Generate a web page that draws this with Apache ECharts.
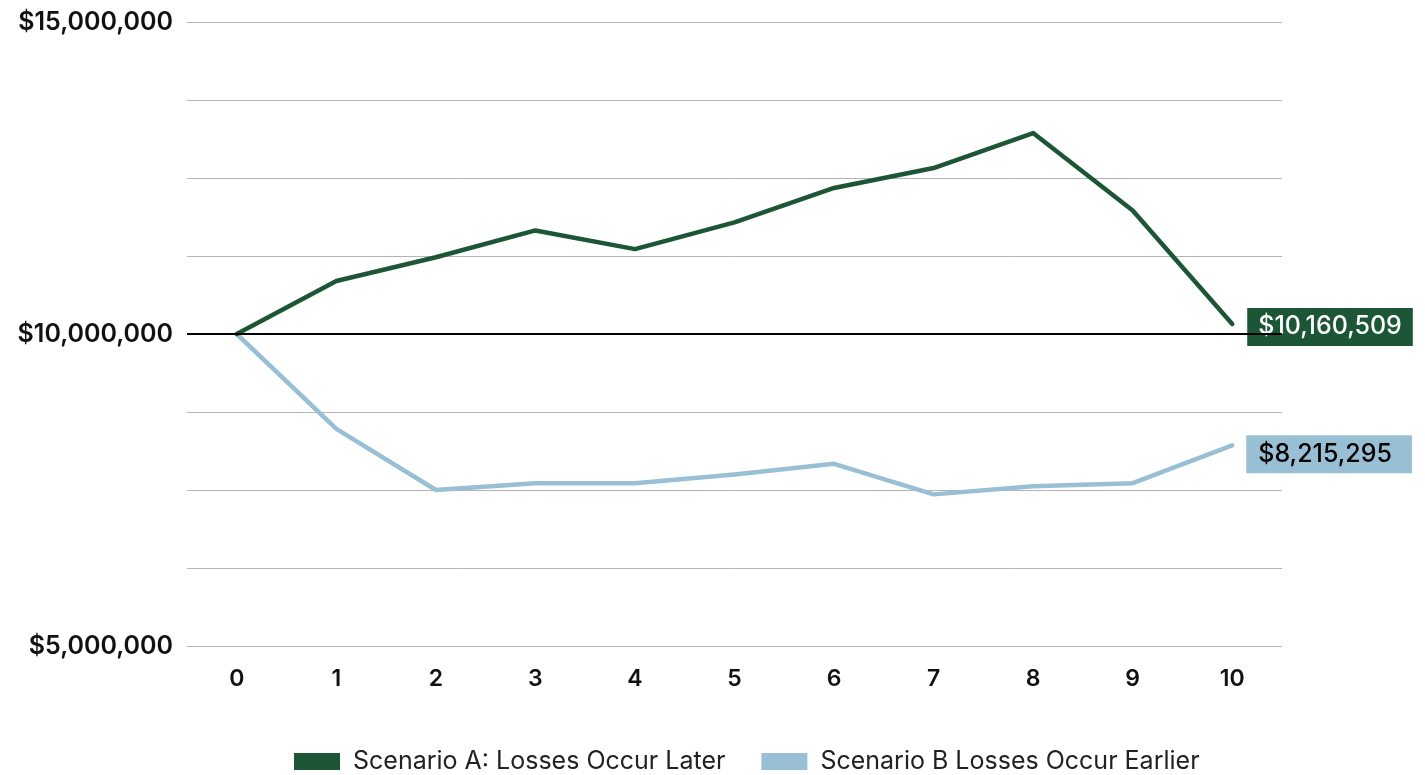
<!DOCTYPE html>
<html>
<head>
<meta charset="utf-8">
<script src="https://cdn.jsdelivr.net/npm/echarts@6/dist/echarts.min.js"></script>
<style>
  html, body { margin: 0; padding: 0; background: #ffffff; }
  #chart { width: 1425px; height: 775px; }
</style>
</head>
<body>
<div id="chart"></div>
<script>
// Years since retirement
const years = ['0', '1', '2', '3', '4', '5', '6', '7', '8', '9', '10'];

// Portfolio value, losses late in the sequence
const scenarioA = [10000000, 10850000, 11230000, 11660000, 11360000, 11790000, 12340000, 12660000, 13220000, 11980000, 10160509];

// Portfolio value, losses early in the sequence
const scenarioB = [10000000, 8480000, 7500000, 7610000, 7610000, 7750000, 7920000, 7430000, 7560000, 7610000, 8215295];

const seriesNames = ['Scenario A: Losses Occur Later', 'Scenario B Losses Occur Earlier'];
const startingValue = 10000000;
const labelledTicks = [5000000, 10000000, 15000000];

const GREEN = '#1d5637';
const BLUE = '#99bfd5';
const FONT = 'Inter, "Noto Sans", sans-serif';

const money = v => '$' + Math.round(v).toLocaleString('en-US');

const chart = echarts.init(document.getElementById('chart'), null, { renderer: 'canvas' });

// Boxed value tag at the end of each line
function tag(bg, fg, pad, offset) {
  return {
    show: true,
    distance: 15,
    offset: offset,
    formatter: p => money(p.value),
    backgroundColor: bg,
    color: fg,
    fontFamily: FONT,
    fontSize: 25,
    fontWeight: 500,
    padding: pad,
    lineHeight: 28
  };
}

chart.setOption({
  animation: false,
  textStyle: { fontFamily: FONT },
  grid: { left: 187, right: 143, top: 22, bottom: 129, containLabel: false },
  legend: {
    top: 744,
    left: 289,
    itemWidth: 46,
    itemHeight: 17,
    itemGap: 36,
    icon: 'rect',
    textStyle: { fontFamily: FONT, fontSize: 25, fontWeight: 400, color: '#222', padding: [0, 0, 0, 8] },
    data: [
      { name: seriesNames[0], itemStyle: { color: GREEN } },
      { name: seriesNames[1], itemStyle: { color: BLUE } }
    ]
  },
  xAxis: {
    type: 'category',
    data: years,
    boundaryGap: true,
    axisLine: { show: false },
    axisTick: { show: false },
    axisLabel: { color: '#111', fontSize: 23, fontWeight: 600, margin: 22, fontFamily: FONT }
  },
  yAxis: {
    type: 'value',
    min: 5000000,
    max: 15000000,
    interval: 1250000,
    axisLine: { show: false },
    axisTick: { show: false },
    splitLine: { lineStyle: { color: '#b4b4b4', width: 1 } },
    axisLabel: {
      color: '#111',
      fontSize: 25,
      fontWeight: 600,
      margin: 14,
      fontFamily: FONT,
      formatter: v => labelledTicks.includes(v) ? money(v) : ''
    }
  },
  series: [
    {
      name: seriesNames[0],
      type: 'line',
      data: scenarioA,
      color: GREEN,
      symbol: 'none',
      lineStyle: { width: 4.5, color: GREEN, cap: 'round', join: 'round' },
      endLabel: tag(GREEN, '#ffffff', [5, 11, 5, 11], [0, 3]),
      markLine: {
        silent: true,
        symbol: 'none',
        label: { show: false },
        lineStyle: { color: '#000', width: 2, type: 'solid' },
        data: [{ yAxis: startingValue }]
      },
      z: 3
    },
    {
      name: seriesNames[1],
      type: 'line',
      data: scenarioB,
      color: BLUE,
      symbol: 'none',
      lineStyle: { width: 4.5, color: BLUE, cap: 'round', join: 'round' },
      endLabel: tag(BLUE, '#000000', [5, 20, 5, 12], [-1, 9]),
      z: 2
    }
  ]
});
</script>
</body>
</html>
